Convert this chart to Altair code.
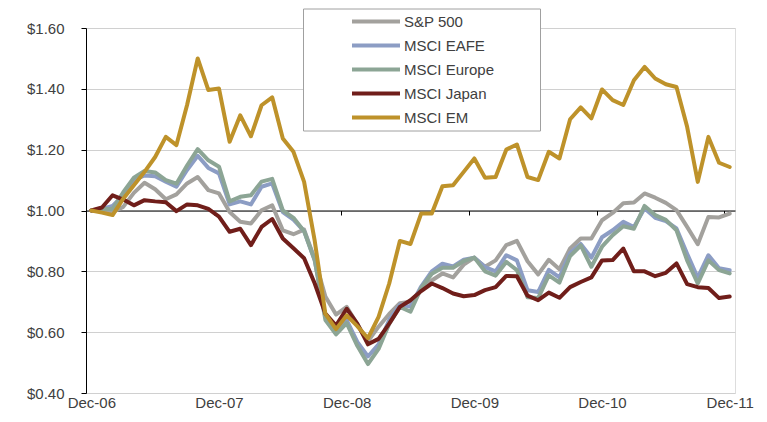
import altair as alt
import pandas as pd

series_names = ["S&P 500", "MSCI EAFE", "MSCI Europe", "MSCI Japan", "MSCI EM"]
series_colors = ["#A3A19D", "#8C9DC4", "#8CA595", "#701E1A", "#BE922A"]
tick_labels = ["Dec-06", "Dec-07", "Dec-08", "Dec-09", "Dec-10", "Dec-11"]

sp500 = [1.00, 1.005, 0.995, 1.012, 1.058, 1.091, 1.07, 1.037, 1.053, 1.089, 1.11,
         1.067, 1.056, 0.995, 0.963, 0.957, 1.001, 1.017, 0.935, 0.922, 0.937,
         0.84, 0.717, 0.658, 0.683, 0.626, 0.57, 0.618, 0.66, 0.695, 0.70,
         0.74, 0.77, 0.793, 0.78, 0.822, 0.845, 0.815, 0.836, 0.886, 0.90,
         0.833, 0.79, 0.838, 0.807, 0.875, 0.908, 0.908, 0.968, 0.992, 1.024,
         1.026, 1.056, 1.042, 1.025, 1.001, 0.946, 0.889, 0.979, 0.977, 0.99]
eafe = [1.00, 1.005, 1.015, 1.05, 1.10, 1.115, 1.113, 1.095, 1.078, 1.133, 1.18,
        1.14, 1.122, 1.02, 1.03, 1.02, 1.078, 1.089, 0.995, 0.97, 0.932,
        0.836, 0.65, 0.605, 0.64, 0.568, 0.52, 0.56, 0.64, 0.69, 0.684,
        0.75, 0.80, 0.825, 0.816, 0.838, 0.845, 0.814, 0.80, 0.853, 0.836,
        0.738, 0.732, 0.805, 0.78, 0.86, 0.89, 0.845, 0.912, 0.935, 0.963,
        0.946, 1.007, 0.976, 0.965, 0.941, 0.858, 0.779, 0.853, 0.81, 0.804]
europe = [1.00, 1.005, 1.005, 1.06, 1.108, 1.13, 1.125, 1.10, 1.088, 1.148, 1.202,
          1.165, 1.144, 1.03, 1.045, 1.05, 1.095, 1.104, 1.0, 0.976, 0.932,
          0.836, 0.64, 0.593, 0.63, 0.555, 0.495, 0.545, 0.628, 0.683, 0.667,
          0.745, 0.792, 0.812, 0.812, 0.834, 0.845, 0.80, 0.786, 0.831, 0.804,
          0.715, 0.712, 0.787, 0.763, 0.85, 0.885, 0.815, 0.881, 0.919, 0.948,
          0.94, 1.015, 0.985, 0.969, 0.935, 0.836, 0.76, 0.836, 0.804, 0.793]
japan = [1.00, 1.01, 1.05, 1.036, 1.017, 1.034, 1.03, 1.027, 0.998, 1.02, 1.017,
         1.005, 0.98, 0.93, 0.94, 0.886, 0.946, 0.972, 0.908, 0.876, 0.843,
         0.76, 0.661, 0.622, 0.677, 0.628, 0.56, 0.578, 0.628, 0.683, 0.705,
         0.735, 0.76, 0.745, 0.727, 0.718, 0.722, 0.738, 0.748, 0.785, 0.784,
         0.72, 0.705, 0.73, 0.713, 0.748, 0.765, 0.78, 0.836, 0.837, 0.875,
         0.80, 0.80, 0.784, 0.795, 0.826, 0.758, 0.748, 0.745, 0.712, 0.717]
em = [1.00, 0.993, 0.985, 1.039, 1.083, 1.127, 1.176, 1.242, 1.215, 1.347, 1.50,
      1.396, 1.401, 1.226, 1.313, 1.244, 1.346, 1.372, 1.237, 1.193, 1.094,
      0.90, 0.66, 0.61, 0.655, 0.62, 0.58, 0.65, 0.76, 0.90, 0.89,
      0.99, 0.99, 1.08, 1.083, 1.127, 1.171, 1.108, 1.11, 1.20, 1.217,
      1.11, 1.10, 1.193, 1.171, 1.30, 1.339, 1.303, 1.398, 1.363, 1.347,
      1.428, 1.472, 1.434, 1.415, 1.406, 1.275, 1.094, 1.242, 1.157, 1.143]

all_series = [sp500, eafe, europe, japan, em]
rows = []
for k, (name, vals) in enumerate(zip(series_names, all_series)):
    for i, v in enumerate(vals):
        rows.append({"month": i, "value": v, "series": name, "k": k})
df = pd.DataFrame(rows)

FONT = "Liberation Sans"
TXT = "#404040"
W, H = 649, 365

label_arr = "[" + ",".join("'%s'" % t for t in tick_labels) + "]"
x_tick_vals = [-0.5 + 12 * j for j in range(6)]

chart = alt.Chart(df).mark_line(
    strokeWidth=4, strokeJoin="round", strokeCap="round"
).encode(
    x=alt.X("month:Q",
            scale=alt.Scale(domain=[-0.5, 60.5], nice=False, zero=False),
            axis=alt.Axis(values=x_tick_vals, offset=-H / 2, grid=False, title=None,
                          domainColor="black", domainWidth=1, tickColor="black",
                          tickSize=4.5, tickWidth=1, labelPadding=180,
                          labelOffset=W / 61 / 2, labelFlush=False, labelOverlap=False,
                          labelExpr=label_arr + "[round((datum.value + 0.5) / 12)]",
                          labelFont=FONT, labelFontSize=15, labelColor=TXT, zindex=0)),
    y=alt.Y("value:Q",
            scale=alt.Scale(domain=[0.4, 1.6], nice=False, zero=False),
            axis=alt.Axis(values=[0.4, 0.6, 0.8, 1.0, 1.2, 1.4, 1.6], format="$.2f",
                          title=None, grid=True, gridColor="#D0D0D0", gridWidth=1,
                          domainColor="black", tickColor="black", tickSize=5,
                          labelPadding=17, labelFont=FONT, labelFontSize=15,
                          labelColor=TXT, zindex=0)),
    color=alt.Color("series:N",
                    scale=alt.Scale(domain=series_names, range=series_colors),
                    legend=alt.Legend(title="MSCI", titleOrient="right", titlePadding=7,
                                      titleColor="white", titleFont=FONT, titleFontSize=15,
                                      titleFontWeight="normal",
                                      orient="none", legendX=217, legendY=-19.5,
                                      fillColor="white", strokeColor="#A0A0A0",
                                      padding=1, rowPadding=0, clipHeight=24,
                                      symbolType="stroke", symbolSize=2304,
                                      symbolStrokeWidth=4, symbolOffset=46,
                                      labelOffset=2, labelFont=FONT, labelFontSize=15,
                                      labelColor=TXT, labelLimit=300)),
    order=alt.Order("k:Q"),
).properties(
    width=W, height=H,
    autosize=alt.AutoSizeParams(type="none"),
    padding={"left": 78, "top": 20, "right": 19, "bottom": 21},
).configure_view(stroke=None).configure(background="white")

chart.save("out.html", embed_options={"renderer": "svg", "actions": False})
